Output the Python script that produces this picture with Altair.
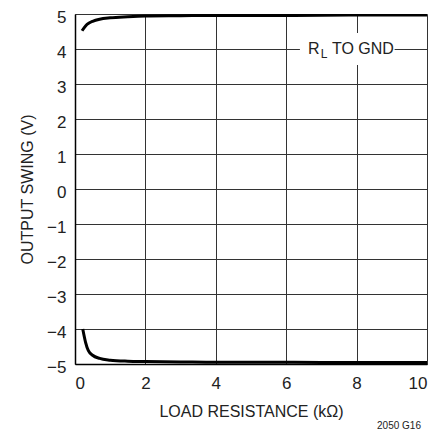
import altair as alt
import pandas as pd

# Data
load_k = [0.2, 0.3, 0.4, 0.5, 0.7, 1.0, 1.5, 2.0, 3.0, 4.0, 6.0, 8.0, 10.0]
swing_high = [4.52, 4.66, 4.74, 4.79, 4.85, 4.89, 4.92, 4.94, 4.95, 4.96, 4.96, 4.97, 4.97]
load_k_low = [0.22, 0.3, 0.38, 0.5, 0.7, 1.0, 1.5, 2.0, 3.0, 4.0, 6.0, 8.0, 10.0]
swing_low = [-4.0, -4.38, -4.62, -4.75, -4.84, -4.89, -4.92, -4.93, -4.94, -4.95, -4.95, -4.96, -4.96]

x_ticks = [0, 2, 4, 6, 8, 10]
y_ticks = [-5, -4, -3, -2, -1, 0, 1, 2, 3, 4, 5]

FONT = "Liberation Sans"

df = pd.DataFrame({
    "load": load_k + load_k_low,
    "swing": swing_high + swing_low,
    "series": ["high"] * len(load_k) + ["low"] * len(load_k_low),
})

xs = alt.Scale(domain=[0, 10], nice=False)
ys = alt.Scale(domain=[-5, 5], nice=False)

xa = alt.Axis(
    values=x_ticks, title="LOAD RESISTANCE (kΩ)", grid=True, gridColor="#333", gridWidth=1,
    ticks=False, domain=True, domainColor="black", domainWidth=1.5, labelOverlap=False, zindex=0,
    labelFont=FONT, labelFontSize=17, labelColor="#222", labelPadding=11,
    titleFont=FONT, titleFontSize=16, titleFontWeight="normal", titleColor="#222", titlePadding=12)
ya = alt.Axis(
    values=y_ticks, title="OUTPUT SWING (V)", grid=True, gridColor="#333", gridWidth=1,
    ticks=False, domain=True, domainColor="black", domainWidth=1.5, labelOverlap=False, zindex=0,
    labelFont=FONT, labelFontSize=17, labelColor="#222", labelPadding=9, labelOffset=3,
    titleFont=FONT, titleFontSize=16, titleFontWeight="normal", titleColor="#222", titlePadding=11)

lines = alt.Chart(df).mark_line(color="black", strokeWidth=3, interpolate="monotone", clip=True).encode(
    x=alt.X("load:Q", scale=xs, axis=xa, title="LOAD RESISTANCE (kΩ)"),
    y=alt.Y("swing:Q", scale=ys, axis=ya, title="OUTPUT SWING (V)"),
    detail="series:N",
)

ann_box = pd.DataFrame({"load": [6.39], "load2": [9.08], "swing": [3.54], "swing2": [4.46]})
box = alt.Chart(ann_box).mark_rect(color="white", opacity=1).encode(
    x=alt.X("load:Q", scale=xs, axis=xa, title="LOAD RESISTANCE (kΩ)"), x2="load2",
    y=alt.Y("swing:Q", scale=ys, axis=ya, title="OUTPUT SWING (V)"), y2="swing2")

ann_text = pd.DataFrame({
    "load": [6.62, 6.98, 7.3],
    "swing": [4.0, 3.86, 4.0],
    "t": ["R", "L", "TO GND"],
    "size": [16, 12, 16],
})
txt = alt.Chart(ann_text).mark_text(font=FONT, align="left", baseline="middle", color="#222").encode(
    x=alt.X("load:Q", scale=xs, axis=xa, title="LOAD RESISTANCE (kΩ)"),
    y=alt.Y("swing:Q", scale=ys, axis=ya, title="OUTPUT SWING (V)"), text="t:N",
    size=alt.Size("size:Q", scale=None, legend=None))

foot = alt.Chart(pd.DataFrame({"t": ["2050 G16"]})).mark_text(
    font=FONT, fontSize=10, align="center", baseline="middle", color="#222").encode(
    x=alt.value(324), y=alt.value(412), text="t:N")

chart = alt.layer(box, lines, txt, foot).properties(
    width=352, height=350,
    autosize=alt.AutoSizeParams(type="none"),
    padding={"left": 67, "top": 6, "right": 7, "bottom": 74},
).configure_view(stroke="black", strokeWidth=1.5).configure(background="white")

chart.save("out.html", embed_options={"renderer": "svg", "actions": False})
